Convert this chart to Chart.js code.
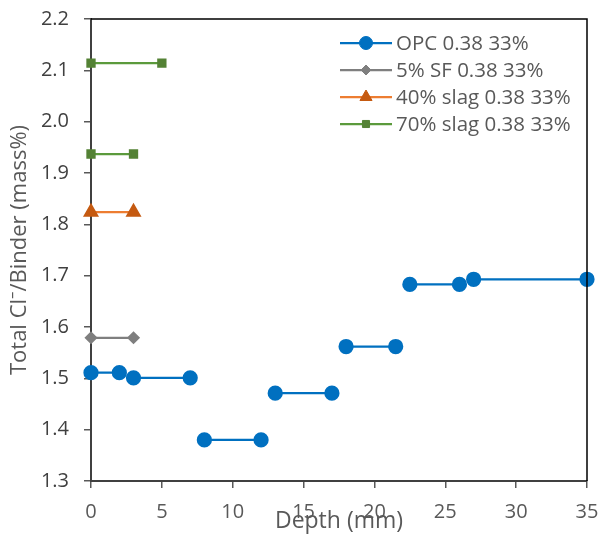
<!DOCTYPE html>
<html>
<head>
<meta charset="utf-8">
<script src="https://cdn.jsdelivr.net/npm/chart.js@4.4.0/dist/chart.umd.min.js"></script>
<style>
  html, body { margin: 0; padding: 0; background: #fff; }
  #wrap { width: 600px; height: 535px; }
</style>
</head>
<body>
<div id="wrap"><canvas id="chart"></canvas></div>
<script>
// each pair of points is one depth interval (start, end)
const opcDepth = [0, 2, 3, 7, 8, 12, 13, 17, 18, 21.5, 22.5, 26, 27, 35];
const opcValue = [1.511, 1.511, 1.501, 1.501, 1.380, 1.380, 1.471, 1.471, 1.562, 1.562, 1.683, 1.683, 1.693, 1.693];
const sfDepth = [0, 3];
const sfValue = [1.579, 1.579];
const slag40Depth = [0, 3];
const slag40Value = [1.824, 1.824];
const slag70Depth = [0, 3, 0, 5];
const slag70Value = [1.937, 1.937, 2.114, 2.114];
const seriesNames = ['OPC 0.38 33%', '5% SF 0.38 33%', '40% slag 0.38 33%', '70% slag 0.38 33%'];

// turn interval pairs into points with a break between intervals
function toSegments(depth, value) {
  const pts = [];
  for (let i = 0; i < depth.length; i += 2) {
    if (i > 0) pts.push({ x: (depth[i - 1] + depth[i]) / 2, y: null });
    pts.push({ x: depth[i], y: value[i] });
    pts.push({ x: depth[i + 1], y: value[i + 1] });
  }
  return pts;
}

const FONT = "'Open Sans', 'Noto Sans', sans-serif";

const frame = {
  id: 'frame',
  afterDatasetsDraw(chart) {
    const { ctx, chartArea: a } = chart;
    ctx.save();
    ctx.strokeStyle = '#000';
    ctx.lineWidth = 1.5;
    ctx.beginPath();
    ctx.moveTo(a.left, a.top);
    ctx.lineTo(a.right, a.top);
    ctx.lineTo(a.right, a.bottom);
    ctx.stroke();
    ctx.restore();
  }
};

const insideLegend = {
  id: 'insideLegend',
  afterDraw(chart) {
    const ctx = chart.ctx;
    ctx.save();
    ctx.font = '20.5px ' + FONT;
    ctx.textBaseline = 'middle';
    chart.data.datasets.forEach((ds, i) => {
      const y = 43 + i * 27;
      ctx.strokeStyle = ds.borderColor;
      ctx.lineWidth = ds.borderWidth;
      ctx.beginPath();
      ctx.moveTo(340, y);
      ctx.lineTo(392, y);
      ctx.stroke();
      ctx.fillStyle = ds.pointBackgroundColor;
      ctx.strokeStyle = ds.pointBorderColor;
      ctx.lineWidth = 1;
      Chart.helpers.drawPoint(ctx, {
        pointStyle: ds.pointStyle,
        radius: ds.pointRadius,
        borderWidth: 1,
        rotation: 0
      }, 366, y);
      ctx.fillStyle = '#595959';
      ctx.fillText(ds.label, 396, y + 1);
    });
    ctx.restore();
  }
};

function line(label, data, color, markerColor, style, radius) {
  return {
    label: label,
    data: data,
    borderColor: color,
    borderWidth: 2.25,
    pointStyle: style,
    pointRadius: radius,
    pointHoverRadius: radius,
    pointBackgroundColor: markerColor,
    pointBorderColor: markerColor,
    spanGaps: false,
    clip: false,
    tension: 0
  };
}

new Chart(document.getElementById('chart'), {
  type: 'line',
  data: {
    datasets: [
      line(seriesNames[0], toSegments(opcDepth, opcValue), '#0070C0', '#0070C0', 'circle', 6.5),
      line(seriesNames[1], toSegments(sfDepth, sfValue), '#7F7F7F', '#7F7F7F', 'rectRot', 5),
      line(seriesNames[2], toSegments(slag40Depth, slag40Value), '#ED7D31', '#C55A11', 'triangle', 7),
      line(seriesNames[3], toSegments(slag70Depth, slag70Value), '#5B9A3C', '#548235', 'rect', 5)
    ]
  },
  options: {
    responsive: true,
    maintainAspectRatio: false,
    animation: false,
    layout: { padding: { left: 0, right: 13, top: 19, bottom: 0 } },
    plugins: {
      legend: { display: false },
      tooltip: { enabled: false }
    },
    scales: {
      x: {
        type: 'linear',
        min: 0,
        max: 35,
        afterFit: s => { s.height = 54; s.paddingLeft = 0; s.paddingRight = 0; },
        ticks: { stepSize: 5, color: '#595959', font: { family: FONT, size: 20 }, padding: 12, maxRotation: 0 },
        grid: { drawOnChartArea: false, drawTicks: true, tickLength: 7, color: '#595959', lineWidth: 1.5 },
        border: { color: '#404040', width: 2 },
        title: { display: true, text: 'Depth (mm)', color: '#595959', font: { family: FONT, size: 23 }, padding: { top: 0, bottom: 0 } }
      },
      y: {
        min: 1.3,
        max: 2.2,
        afterFit: s => { s.width = 91; s.paddingTop = 0; s.paddingBottom = 0; },
        ticks: { stepSize: 0.1, color: '#404040', font: { family: FONT, size: 20 }, padding: 15,
                 callback: v => v.toFixed(1) },
        grid: { drawOnChartArea: false, drawTicks: true, tickLength: 7, color: '#595959', lineWidth: 1.5 },
        border: { color: '#404040', width: 2 },
        title: { display: true, text: 'Total Cl\u207B/Binder (mass%)', color: '#595959', font: { family: FONT, size: 22 }, padding: { top: 7, bottom: 0 } }
      }
    }
  },
  plugins: [frame, insideLegend]
});
</script>
</body>
</html>
